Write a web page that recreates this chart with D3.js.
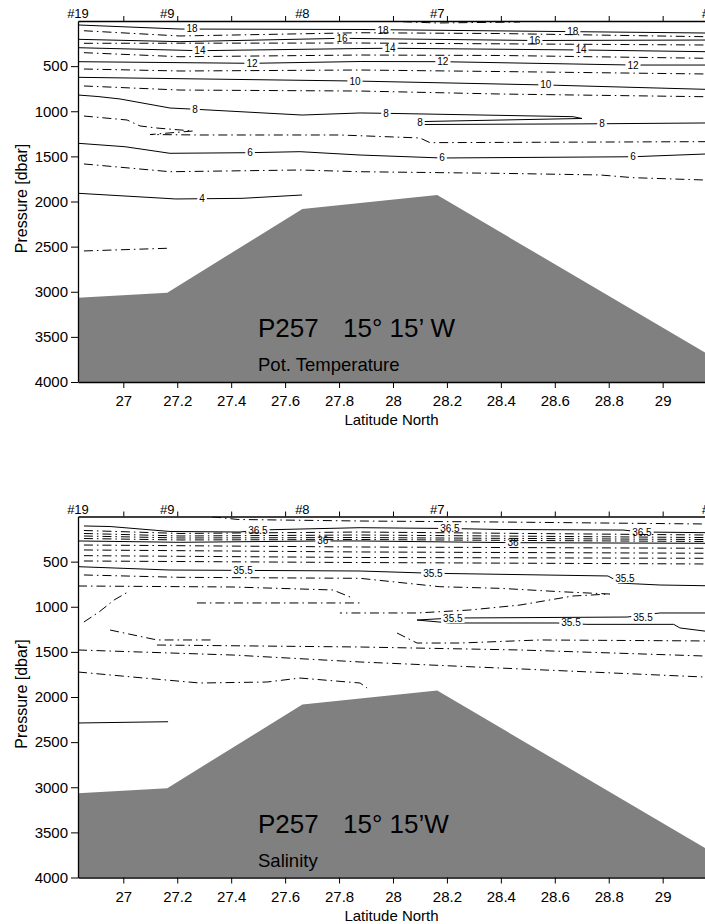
<!DOCTYPE html>
<html><head><meta charset="utf-8">
<script src="https://cdn.jsdelivr.net/npm/d3@7/dist/d3.min.js"></script>
<style>
body{margin:0;background:#fff}
text{font-family:"Liberation Sans",Arial,Helvetica,sans-serif;fill:#000}
</style></head><body>
<svg id="chart" width="705" height="924"></svg>
<script>
// CTD stations along the section (latitude °N) and sea-floor pressure at each
const stationNames = ["#19", "#9", "#8", "#7", "#6"];
const stationLat = [26.832, 27.163, 27.664, 28.164, 29.172];
const bottomPressure = [3066, 3010, 2083, 1928, 3700];

const latTicks = [27, 27.2, 27.4, 27.6, 27.8, 28, 28.2, 28.4, 28.6, 28.8, 29];
const pressureTicks = [500, 1000, 1500, 2000, 2500, 3000, 3500, 4000];

// potential temperature isolines: level and [lat, pressure] vertices
const thetaLevels = [19, 18, 17, 16, 15, 14, 13, 12, 11, 10, 9, 8, 7, 6, 5, 4, 3];
const thetaPaths = [
  [[28.037, 8], [28.163, 22], [28.471, 11]],
  [[26.832, 44], [27.210, 89], [27.878, 94], [28.667, 118], [29.157, 133]],
  [[26.854, 108], [27.210, 166], [27.878, 130], [28.397, 139], [29.157, 174]],
  [[26.832, 203], [27.210, 229], [27.811, 192], [28.526, 216], [29.157, 211]],
  [[26.854, 247], [27.878, 244], [29.157, 266]],
  [[26.832, 296], [27.284, 329], [27.878, 305], [27.989, 302], [28.697, 321], [29.157, 340]],
  [[26.854, 351], [27.210, 396], [27.878, 377], [28.397, 382], [29.157, 413]],
  [[26.832, 451], [27.477, 469], [27.878, 449], [28.185, 451], [28.890, 488], [29.157, 488]],
  [[26.854, 532], [27.210, 554], [27.878, 543], [28.397, 560], [29.157, 587]],
  [[26.832, 624], [27.859, 665], [28.567, 709], [29.157, 757]],
  [[26.854, 720], [27.210, 765], [27.878, 776], [28.397, 809], [29.157, 839]],
  [[26.832, 820], [26.906, 837], [26.988, 864], [27.173, 964], [27.266, 978], [27.663, 1042], [27.878, 1019],
   [27.974, 1023], [28.667, 1060], [28.701, 1080], [28.111, 1114], [28.093, 1130], [28.111, 1147], [28.701, 1140], [29.157, 1130]],
  [[26.854, 1053], [27.014, 1097], [27.062, 1163], [27.125, 1186], [27.258, 1219], [27.099, 1258], [27.284, 1263],
   [27.803, 1263], [28.100, 1296], [28.137, 1348], [29.157, 1337]],
  [[26.832, 1355], [27.006, 1393], [27.173, 1466], [27.470, 1459], [27.655, 1448], [27.878, 1485], [28.182, 1518], [28.890, 1504], [29.157, 1474]],
  [[26.854, 1584], [27.173, 1670], [27.655, 1651], [27.878, 1670], [28.397, 1688], [28.768, 1706], [28.890, 1736], [29.157, 1762]],
  [[26.832, 1909], [27.195, 1972], [27.440, 1965], [27.663, 1928]],
  [[26.854, 2548], [27.166, 2518]]
];
// inline labels: [isoline index, lat, pressure]
const thetaLabels = [
  [1, 27.255, 88], [1, 27.963, 100], [1, 28.667, 118],
  [3, 27.811, 192], [3, 28.526, 216],
  [5, 27.284, 329], [5, 27.989, 302], [5, 28.697, 321],
  [7, 27.477, 469], [7, 28.185, 451], [7, 28.890, 488],
  [9, 27.859, 665], [9, 28.567, 709],
  [11, 27.266, 978], [11, 27.974, 1023], [11, 28.100, 1130], [11, 28.775, 1138],
  [13, 27.470, 1459], [13, 28.182, 1518], [13, 28.890, 1504],
  [15, 27.292, 1970]
];

// salinity isolines
const salinityLevels = [36.6, 36.5, 36.4, 36.3, 36.2, 36.1, 36.0, 35.9, 35.8, 35.7, 35.6, 35.5, 35.4, 35.3, 35.3, 35.3, 35.4, 35.5, 35.4, 35.3, 35.2, 35.1, 35.0];
const salinityPaths = [
  [[27.329, 3], [27.425, 33], [27.878, 50], [28.397, 61], [29.157, 83]],
  [[26.854, 105], [26.951, 111], [27.173, 166], [27.433, 172], [27.499, 150], [27.655, 139], [27.878, 124], [28.211, 133], [28.397, 144], [28.853, 150], [28.923, 172], [29.157, 179]],
  [[26.854, 155], [27.210, 188], [27.878, 172], [29.157, 205]],
  [[26.854, 188], [27.210, 216], [27.878, 205], [29.157, 233]],
  [[26.854, 216], [27.210, 238], [27.878, 233], [29.157, 255]],
  [[26.854, 244], [27.210, 260], [27.878, 255], [29.157, 277]],
  [[26.832, 271], [27.210, 286], [27.740, 271], [27.878, 271], [28.445, 290], [29.157, 297]],
  [[26.854, 316], [27.878, 338], [29.157, 352]],
  [[26.854, 371], [27.878, 393], [29.157, 407]],
  [[26.854, 434], [27.878, 454], [29.157, 463]],
  [[26.854, 493], [27.878, 510], [29.157, 526]],
  [[26.832, 556], [27.173, 593], [27.878, 604], [28.148, 629], [28.797, 659], [28.823, 700], [28.834, 737], [28.990, 759], [29.157, 767]],
  [[26.854, 648], [27.210, 674], [27.878, 685], [28.174, 778], [28.397, 796], [28.619, 833], [28.804, 859], [28.667, 881], [28.471, 981], [28.285, 1036], [28.089, 1069], [27.803, 1069]],
  [[26.832, 770], [27.407, 781], [27.777, 814], [27.841, 892]],
  [[26.854, 1169], [26.910, 1058], [26.966, 925], [27.017, 837]],
  [[27.273, 958], [27.878, 958]],
  [[26.951, 1258], [27.125, 1368], [27.329, 1368]],
  [[29.157, 1069], [28.990, 1069], [28.868, 1114], [28.222, 1125], [28.089, 1147], [28.211, 1180], [28.608, 1180], [28.719, 1195], [29.041, 1195], [29.064, 1235], [29.157, 1270]],
  [[28.015, 1291], [28.089, 1402], [28.248, 1402], [28.545, 1368], [29.157, 1379]],
  [[27.125, 1424], [27.878, 1446], [28.471, 1479], [29.157, 1546]],
  [[26.832, 1479], [27.407, 1535], [27.878, 1612], [28.397, 1679], [29.157, 1779]],
  [[26.832, 1723], [27.036, 1779], [27.284, 1845], [27.533, 1834], [27.655, 1790], [27.878, 1845], [27.904, 1900]],
  [[26.832, 2288], [27.166, 2274]]
];
const salinityLabels = [
  [1, 27.499, 150], [1, 28.211, 133], [1, 28.923, 172],
  [6, 27.740, 271], [6, 28.445, 290],
  [11, 27.444, 597], [11, 28.148, 629], [11, 28.860, 682],
  [17, 28.222, 1125], [17, 28.927, 1114], [17, 28.660, 1180]
];

const W = 705, plotLeft = 78, plotRight = 705, plotH = 361;
const svg = d3.select("#chart");
const x = d3.scaleLinear().domain([26.832, 29.157]).range([plotLeft, plotRight]);
const dashDot = "9,4,1.5,4";

function drawPanel(top, levels, paths, labels, isSolid, fmt, titleRight, subtitle, id) {
  const y = d3.scaleLinear().domain([0, 4000]).range([top, top + plotH]);
  const g = svg.append("g");
  const defs = g.append("defs");
  defs.append("clipPath").attr("id", "clip" + id)
    .append("rect").attr("x", plotLeft).attr("y", top).attr("width", plotRight - plotLeft).attr("height", plotH);

  const body = g.append("g").attr("clip-path", `url(#clip${id})`);

  // sea floor
  const floor = stationLat.map((lat, i) => [lat, bottomPressure[i]]);
  body.append("path").datum(floor)
    .attr("d", d3.area().x(d => x(d[0])).y0(y(4000)).y1(d => y(d[1])))
    .attr("fill", "#808080");

  // measure labels first so the isolines can be broken underneath them
  const labelG = g.append("g");
  const boxes = labels.map(([idx, lat, p]) => {
    const t = labelG.append("text")
      .attr("x", x(lat)).attr("y", y(p)).attr("dy", "0.35em")
      .attr("text-anchor", "middle").attr("font-size", 10)
      .text(fmt(levels[idx]));
    const w = t.node().getComputedTextLength();
    return { idx, cx: x(lat), cy: y(p), w };
  });

  const line = d3.line().x(d => x(d[0])).y(d => y(d[1]));
  const lineG = body.append("g");
  paths.forEach((pts, i) => {
    const mine = boxes.filter(b => b.idx === i);
    const path = lineG.append("path").datum(pts)
      .attr("d", line).attr("fill", "none")
      .attr("stroke", "#000").attr("stroke-width", 1)
      .attr("stroke-dasharray", isSolid(levels[i]) ? null : dashDot);
    if (mine.length) {
      const m = defs.append("mask").attr("id", `m${id}_${i}`)
        .attr("maskUnits", "userSpaceOnUse")
        .attr("x", 0).attr("y", 0).attr("width", W).attr("height", 924);
      m.append("rect").attr("x", 0).attr("y", 0).attr("width", W).attr("height", 924).attr("fill", "#fff");
      mine.forEach(b => m.append("rect")
        .attr("x", b.cx - b.w / 2 - 2).attr("y", b.cy - 5).attr("width", b.w + 4).attr("height", 10)
        .attr("fill", "#000"));
      path.attr("mask", `url(#m${id}_${i})`);
    }
  });
  labelG.raise();

  // axes
  const left = g.append("g").attr("transform", `translate(${plotLeft},0)`)
    .call(d3.axisLeft(y).tickValues(pressureTicks).tickSize(7).tickSizeOuter(0).tickPadding(3).tickFormat(d => String(d)));
  const bottom = g.append("g").attr("transform", `translate(0,${top + plotH})`)
    .call(d3.axisBottom(x).tickValues(latTicks).tickSize(6).tickSizeOuter(0).tickPadding(7.5).tickFormat(d => String(d)));
  const topAx = g.append("g").attr("transform", `translate(0,${top})`)
    .call(d3.axisTop(x).tickValues(latTicks).tickSize(5).tickSizeOuter(0).tickFormat(""));
  [left, bottom, topAx].forEach(a => {
    a.selectAll("text").attr("font-size", 15).attr("font-family", '"Liberation Sans",Arial,sans-serif').attr("fill", "#000");
    a.selectAll("line,path").attr("stroke", "#000");
  });
  topAx.select(".domain").attr("stroke-width", 1.3);
  left.select(".domain").attr("stroke-width", 1.3);
  bottom.select(".domain").attr("stroke-width", 1.3);

  // station names above the frame
  g.append("g").selectAll("text").data(stationNames).join("text")
    .attr("x", (d, i) => x(stationLat[i])).attr("y", top - 3)
    .attr("text-anchor", "middle").attr("font-size", 13).text(d => d);

  g.append("text").attr("transform", `translate(27,${top + plotH / 2 - 3}) rotate(-90)`)
    .attr("text-anchor", "middle").attr("font-size", 16).text("Pressure [dbar]");
  g.append("text").attr("x", (plotLeft + plotRight) / 2).attr("y", top + plotH + 43)
    .attr("text-anchor", "middle").attr("font-size", 15).text("Latitude North");

  g.append("text").attr("x", 258).attr("y", top + 316.3).attr("font-size", 26).text("P257");
  g.append("text").attr("x", 343).attr("y", top + 316.3).attr("font-size", 26).text(titleRight);
  g.append("text").attr("x", 258).attr("y", top + 350).attr("font-size", 18.5).text(subtitle);
}

drawPanel(21, thetaLevels, thetaPaths, thetaLabels, v => v % 2 === 0, v => String(v),
  "15° 15’ W", "Pot. Temperature", "t");
drawPanel(516.5, salinityLevels, salinityPaths, salinityLabels,
  v => Math.abs(v * 2 - Math.round(v * 2)) < 1e-6, v => String(+v.toFixed(1)),
  "15° 15’W", "Salinity", "s");
</script>
</body></html>
